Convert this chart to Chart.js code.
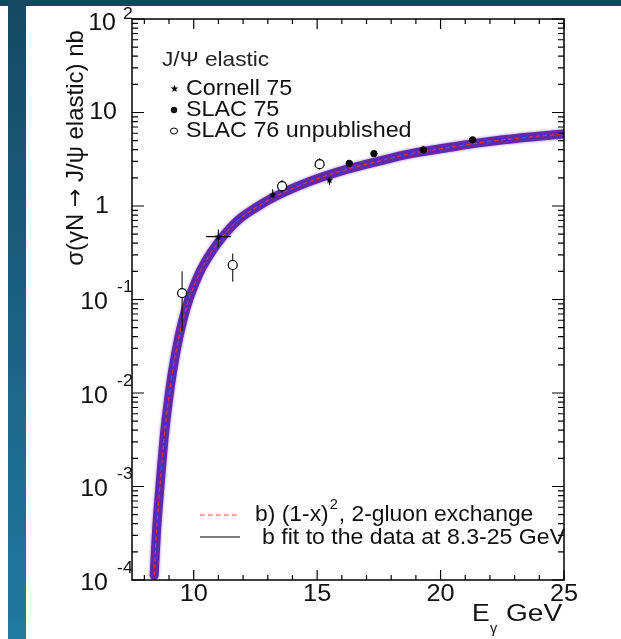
<!DOCTYPE html>
<html lang="en">
<head>
  <meta charset="UTF-8">
  <script src="https://cdn.jsdelivr.net/npm/chart.js"></script>
  <style>
    body { margin: 0; background: #fff; }
    #wrap { position: relative; width: 621px; height: 639px; overflow: hidden; }
    #topbar { position: absolute; left: 0; top: 0; width: 621px; height: 6px; background: #154660; }
    #sidebar { position: absolute; left: 8px; top: 0; width: 18px; height: 639px;
               background: linear-gradient(#164962, #2179a1); }
  </style>
</head>
<body>
<div id="wrap">
  <canvas id="chart" width="621" height="639"></canvas>
  <div id="topbar"></div>
  <div id="sidebar"></div>
</div>

<script>
// curve: b) (1-x)^2, 2-gluon exchange  (E in GeV, sigma in nb)
const curveE = [8.40, 8.45, 8.50, 8.60, 8.70, 8.80, 8.90, 9.00, 9.15, 9.40, 9.60, 9.80,
                10.0, 10.3, 10.7, 11.2, 11.8, 12.5, 13.3, 14.2, 15.2, 16.3, 17.5, 18.8,
                20.2, 21.7, 23.3, 25.0];
const curveS = [1.12e-4, 2.09e-4, 3.55e-4, 7.94e-4, 1.66e-3, 3.31e-3, 5.75e-3, 9.33e-3,
                0.0174, 0.0398, 0.0661, 0.100, 0.138, 0.209, 0.316, 0.479, 0.708, 0.955,
                1.26, 1.62, 2.04, 2.51, 3.02, 3.63, 4.17, 4.79, 5.37, 5.89];

// data points
const cornellE  = [11.0, 13.2, 15.5];
const cornellS  = [0.47, 1.32, 1.90];
const cornellLo = [0.36, 1.20, 1.68];
const cornellHi = [0.56, 1.51, 2.02];
const cornellEx = [0.5, 0, 0];

const slac75E  = [16.3, 17.3, 19.3, 21.3];
const slac75S  = [2.86, 3.63, 3.98, 5.10];
const slac75Lo = [2.70, 3.45, 3.60, 4.90];
const slac75Hi = [3.00, 3.80, 4.40, 5.30];

const slac76E  = [9.53, 11.58, 13.58, 15.1];
const slac76S  = [0.117, 0.234, 1.63, 2.80];
const slac76Lo = [0.046, 0.155, 1.40, 2.45];
const slac76Hi = [0.200, 0.310, 1.90, 3.25];

const yDecades = [-4, -3, -2, -1, 0, 1, 2];
const xTicks = [10, 15, 20, 25];

const pts = (xs, ys) => xs.map((x, i) => ({x: x, y: ys[i]}));
const FONT = '"Liberation Sans", Arial, sans-serif';

// small filled star marker
const star = document.createElement('canvas');
star.width = 9; star.height = 9;
(function () {
  const c = star.getContext('2d');
  c.fillStyle = '#000';
  c.beginPath();
  for (let k = 0; k < 10; k++) {
    const r = k % 2 === 0 ? 4 : 1.7;
    const ang = -Math.PI / 2 + k * Math.PI / 5;
    c.lineTo(4.5 + r * Math.cos(ang), 4.8 + r * Math.sin(ang));
  }
  c.closePath();
  c.fill();
})();

function drawErrorBars(chart) {
  const ctx = chart.ctx, xs = chart.scales.x, ys = chart.scales.y;
  ctx.save();
  ctx.strokeStyle = '#111';
  ctx.lineWidth = 1.1;
  const sets = [
    [cornellE, cornellS, cornellLo, cornellHi, cornellEx],
    [slac75E, slac75S, slac75Lo, slac75Hi, null],
    [slac76E, slac76S, slac76Lo, slac76Hi, null]
  ];
  sets.forEach(([E, S, lo, hi, ex]) => {
    E.forEach((e, i) => {
      const px = xs.getPixelForValue(e);
      ctx.beginPath();
      ctx.moveTo(px, ys.getPixelForValue(lo[i]));
      ctx.lineTo(px, ys.getPixelForValue(hi[i]));
      if (ex && ex[i] > 0) {
        const py = ys.getPixelForValue(S[i]);
        ctx.moveTo(xs.getPixelForValue(e - ex[i]), py);
        ctx.lineTo(xs.getPixelForValue(e + ex[i]), py);
      }
      ctx.stroke();
    });
  });
  ctx.restore();
}

// text with a slight horizontal stretch, like the source picture
function text(ctx, s, x, y, size, align, sx) {
  sx = sx || 1.04;
  ctx.save();
  ctx.font = size + 'px ' + FONT;
  ctx.textAlign = align || 'left';
  ctx.translate(x, y);
  ctx.scale(sx, 1);
  ctx.fillText(s, 0, 0);
  const w = ctx.measureText(s).width * sx;
  ctx.restore();
  return w;
}

const deco = {
  id: 'deco',
  beforeDatasetDraw(chart, args) {
    if (args.index === 4) {
      chart.ctx.save();
      chart.ctx.shadowColor = 'rgba(125,80,205,0.8)';
      chart.ctx.shadowBlur = 3;
    }
  },
  afterDatasetDraw(chart, args) {
    if (args.index === 4) chart.ctx.restore();
    if (args.index === 3) drawErrorBars(chart);
  },
  afterDraw(chart) {
    const ctx = chart.ctx, a = chart.chartArea;
    const xs = chart.scales.x, ys = chart.scales.y;
    ctx.save();
    ctx.strokeStyle = '#000';
    ctx.fillStyle = '#111';
    ctx.lineWidth = 1.5;
    ctx.strokeRect(a.left, a.top, a.right - a.left, a.bottom - a.top);

    // x ticks (inside, bottom and top)
    ctx.lineWidth = 1.2;
    ctx.beginPath();
    for (let v = 8; v <= 25; v++) {
      const px = xs.getPixelForValue(v);
      const len = v % 5 === 0 ? 10 : 5;
      ctx.moveTo(px, a.bottom); ctx.lineTo(px, a.bottom - len);
      ctx.moveTo(px, a.top); ctx.lineTo(px, a.top + len);
    }
    // y ticks (inside, left and right)
    yDecades.forEach(d => {
      for (let m = 1; m <= 9; m++) {
        if (d === 2 && m > 1) break;
        const py = ys.getPixelForValue(m * Math.pow(10, d));
        const len = m === 1 ? 12 : 6;
        ctx.moveTo(a.left, py); ctx.lineTo(a.left + len, py);
        ctx.moveTo(a.right, py); ctx.lineTo(a.right - len, py);
      }
    });
    ctx.stroke();

    // x tick labels
    ctx.textBaseline = 'middle';
    xTicks.forEach(v => text(ctx, String(v), xs.getPixelForValue(v), a.bottom + 15, 23, 'center', 1.1));

    // y tick labels
    yDecades.forEach(d => {
      const py = ys.getPixelForValue(Math.pow(10, d));
      if (d === 0) { text(ctx, '1', 109, py, 24, 'right'); return; }
      if (d === 1) { text(ctx, '10', 117, py, 24, 'right'); return; }
      if (d === 2) {
        text(ctx, '10', 116, py + 4, 24, 'right');
        text(ctx, '2', 123, py - 5, 17, 'left');
        return;
      }
      text(ctx, '10', 108, py + 3, 24, 'right');
      text(ctx, String(d), 117, py - 12, 17, 'left');
    });

    // axis titles
    text(ctx, 'E', 472, 615, 23, 'left', 1.15);
    text(ctx, 'γ', 490, 629, 14, 'left');
    text(ctx, 'GeV', 506, 615, 23, 'left', 1.22);

    ctx.save();
    ctx.translate(76, 148);
    ctx.rotate(-Math.PI / 2);
    ctx.font = '24px ' + FONT;
    const p1 = 'σ(γN ', p3 = ' J/ψ elastic) nb';
    const w1 = ctx.measureText(p1).width, w3 = ctx.measureText(p3).width;
    ctx.font = '22px "DejaVu Sans", sans-serif';
    const w2 = ctx.measureText('→').width;
    let x0 = -(w1 + w2 + w3) / 2;
    ctx.textAlign = 'left';
    ctx.font = '24px ' + FONT;
    ctx.fillText(p1, x0, 0);
    ctx.font = '22px "DejaVu Sans", sans-serif';
    ctx.fillText('→', x0 + w1, 0);
    ctx.font = '24px ' + FONT;
    ctx.fillText(p3, x0 + w1 + w2, 0);
    ctx.restore();

    // legend, top
    ctx.fillStyle = '#222';
    text(ctx, 'J/Ψ elastic', 162, 60, 21, 'left', 1.08);
    ctx.fillStyle = '#111';
    text(ctx, 'Cornell 75', 186, 89, 22, 'left', 1.06);
    text(ctx, 'SLAC 75', 186, 110, 22, 'left', 1.06);
    text(ctx, 'SLAC 76 unpublished', 186, 131, 22, 'left', 1.06);
    ctx.drawImage(star, 170, 84);
    ctx.beginPath(); ctx.arc(174, 110, 3.2, 0, Math.PI * 2); ctx.fill();
    ctx.beginPath(); ctx.ellipse(174, 131, 3.6, 3, 0, 0, Math.PI * 2);
    ctx.lineWidth = 1; ctx.stroke();

    // legend, bottom
    ctx.beginPath();
    ctx.strokeStyle = 'rgb(235,80,80)';
    ctx.setLineDash([5, 3]);
    ctx.moveTo(200, 515); ctx.lineTo(240, 515); ctx.stroke();
    ctx.setLineDash([]);
    ctx.beginPath();
    ctx.strokeStyle = '#000';
    ctx.moveTo(200, 537); ctx.lineTo(240, 537); ctx.stroke();
    const w = text(ctx, 'b) (1-x)', 255, 515, 22, 'left', 1.04);
    text(ctx, '2', 255 + w + 1, 505, 14, 'left');
    text(ctx, ', 2-gluon exchange', 255 + w + 10, 515, 22, 'left', 1.04);
    text(ctx, 'b fit to the data at 8.3-25 GeV', 262, 538, 22, 'left', 1.05);
    ctx.restore();
  }
};

new Chart(document.getElementById('chart'), {
  type: 'scatter',
  data: {
    datasets: [
      { label: 'Cornell 75', data: pts(cornellE, cornellS), pointStyle: star,
        radius: 4 },
      { label: 'SLAC 75', data: pts(slac75E, slac75S), pointStyle: 'circle',
        radius: 3.2, borderColor: '#000', backgroundColor: '#000' },
      { label: 'SLAC 76 unpublished', data: pts(slac76E, slac76S), pointStyle: 'circle',
        radius: 4.5, borderColor: '#000', borderWidth: 1.2, backgroundColor: '#fff' },
      { label: 'b) (1-x)^2, 2-gluon exchange', data: pts(curveE, curveS), showLine: true,
        radius: 0, borderColor: 'rgba(235,70,70,0.85)', borderWidth: 1, borderDash: [4, 3],
        cubicInterpolationMode: 'monotone' },
      { label: 'band', data: pts(curveE, curveS), showLine: true, radius: 0,
        borderColor: 'rgb(96,40,170)', borderWidth: 9, borderCapStyle: 'round',
        cubicInterpolationMode: 'monotone' },
      { label: 'b fit to the data at 8.3-25 GeV', data: pts(curveE, curveS), showLine: true,
        radius: 0, borderColor: '#000', borderWidth: 1, cubicInterpolationMode: 'monotone' }
    ]
  },
  options: {
    responsive: false,
    animation: false,
    layout: { padding: { left: 132, right: 57, top: 19, bottom: 59 } },
    scales: {
      x: { type: 'linear', min: 7.5, max: 25, display: false },
      y: { type: 'logarithmic', min: 1e-4, max: 100, display: false }
    },
    plugins: { legend: { display: false }, tooltip: { enabled: false } }
  },
  plugins: [deco]
});
</script>
</body>
</html>
